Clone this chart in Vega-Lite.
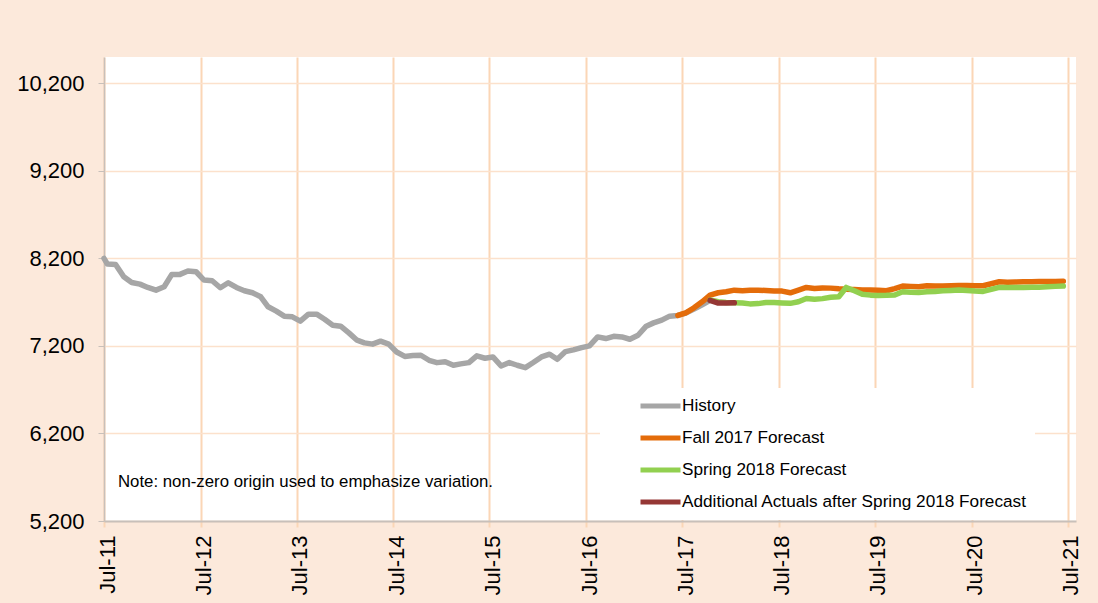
{
  "$schema": "https://vega.github.io/schema/vega-lite/v6.json",
  "width": 972,
  "height": 464,
  "autosize": "none",
  "padding": {"left": 104, "top": 57, "right": 22, "bottom": 82},
  "background": "#FCE9DB",
  "config": {
    "font": "Liberation Sans",
    "view": {"fill": "white", "stroke": null}
  },
  "data": {
    "values": [
      {"d": "2011-07-01", "v": 8200, "s": "History"},
      {"d": "2011-07-14", "v": 8135, "s": "History"},
      {"d": "2011-08-14", "v": 8131, "s": "History"},
      {"d": "2011-09-14", "v": 7990, "s": "History"},
      {"d": "2011-10-14", "v": 7925, "s": "History"},
      {"d": "2011-11-14", "v": 7906, "s": "History"},
      {"d": "2011-12-14", "v": 7868, "s": "History"},
      {"d": "2012-01-14", "v": 7837, "s": "History"},
      {"d": "2012-02-14", "v": 7875, "s": "History"},
      {"d": "2012-03-14", "v": 8017, "s": "History"},
      {"d": "2012-04-14", "v": 8017, "s": "History"},
      {"d": "2012-05-14", "v": 8055, "s": "History"},
      {"d": "2012-06-14", "v": 8047, "s": "History"},
      {"d": "2012-07-14", "v": 7952, "s": "History"},
      {"d": "2012-08-14", "v": 7944, "s": "History"},
      {"d": "2012-09-14", "v": 7864, "s": "History"},
      {"d": "2012-10-14", "v": 7921, "s": "History"},
      {"d": "2012-11-14", "v": 7868, "s": "History"},
      {"d": "2012-12-14", "v": 7830, "s": "History"},
      {"d": "2013-01-14", "v": 7807, "s": "History"},
      {"d": "2013-02-14", "v": 7761, "s": "History"},
      {"d": "2013-03-14", "v": 7647, "s": "History"},
      {"d": "2013-04-14", "v": 7597, "s": "History"},
      {"d": "2013-05-14", "v": 7540, "s": "History"},
      {"d": "2013-06-14", "v": 7532, "s": "History"},
      {"d": "2013-07-14", "v": 7483, "s": "History"},
      {"d": "2013-08-14", "v": 7563, "s": "History"},
      {"d": "2013-09-14", "v": 7563, "s": "History"},
      {"d": "2013-10-14", "v": 7505, "s": "History"},
      {"d": "2013-11-14", "v": 7437, "s": "History"},
      {"d": "2013-12-14", "v": 7425, "s": "History"},
      {"d": "2014-01-14", "v": 7349, "s": "History"},
      {"d": "2014-02-14", "v": 7265, "s": "History"},
      {"d": "2014-03-14", "v": 7235, "s": "History"},
      {"d": "2014-04-14", "v": 7220, "s": "History"},
      {"d": "2014-05-14", "v": 7254, "s": "History"},
      {"d": "2014-06-14", "v": 7220, "s": "History"},
      {"d": "2014-07-14", "v": 7130, "s": "History"},
      {"d": "2014-08-14", "v": 7080, "s": "History"},
      {"d": "2014-09-14", "v": 7090, "s": "History"},
      {"d": "2014-10-14", "v": 7093, "s": "History"},
      {"d": "2014-11-14", "v": 7036, "s": "History"},
      {"d": "2014-12-14", "v": 7009, "s": "History"},
      {"d": "2015-01-14", "v": 7020, "s": "History"},
      {"d": "2015-02-14", "v": 6979, "s": "History"},
      {"d": "2015-03-14", "v": 6995, "s": "History"},
      {"d": "2015-04-14", "v": 7009, "s": "History"},
      {"d": "2015-05-14", "v": 7086, "s": "History"},
      {"d": "2015-06-14", "v": 7059, "s": "History"},
      {"d": "2015-07-14", "v": 7074, "s": "History"},
      {"d": "2015-08-14", "v": 6971, "s": "History"},
      {"d": "2015-09-14", "v": 7009, "s": "History"},
      {"d": "2015-10-14", "v": 6979, "s": "History"},
      {"d": "2015-11-14", "v": 6952, "s": "History"},
      {"d": "2015-12-14", "v": 7010, "s": "History"},
      {"d": "2016-01-14", "v": 7074, "s": "History"},
      {"d": "2016-02-14", "v": 7105, "s": "History"},
      {"d": "2016-03-14", "v": 7047, "s": "History"},
      {"d": "2016-04-14", "v": 7135, "s": "History"},
      {"d": "2016-05-14", "v": 7154, "s": "History"},
      {"d": "2016-06-14", "v": 7180, "s": "History"},
      {"d": "2016-07-14", "v": 7200, "s": "History"},
      {"d": "2016-08-14", "v": 7303, "s": "History"},
      {"d": "2016-09-14", "v": 7284, "s": "History"},
      {"d": "2016-10-14", "v": 7310, "s": "History"},
      {"d": "2016-11-14", "v": 7303, "s": "History"},
      {"d": "2016-12-14", "v": 7276, "s": "History"},
      {"d": "2017-01-14", "v": 7322, "s": "History"},
      {"d": "2017-02-14", "v": 7425, "s": "History"},
      {"d": "2017-03-14", "v": 7463, "s": "History"},
      {"d": "2017-04-14", "v": 7494, "s": "History"},
      {"d": "2017-05-14", "v": 7540, "s": "History"},
      {"d": "2017-06-14", "v": 7548, "s": "History"},
      {"d": "2017-07-14", "v": 7575, "s": "History"},
      {"d": "2017-08-14", "v": 7620, "s": "History"},
      {"d": "2017-09-14", "v": 7670, "s": "History"},
      {"d": "2017-10-14", "v": 7720, "s": "History"},

      {"d": "2017-06-14", "v": 7548, "s": "Fall 2017 Forecast"},
      {"d": "2017-07-14", "v": 7578, "s": "Fall 2017 Forecast"},
      {"d": "2017-08-14", "v": 7635, "s": "Fall 2017 Forecast"},
      {"d": "2017-09-14", "v": 7704, "s": "Fall 2017 Forecast"},
      {"d": "2017-10-14", "v": 7780, "s": "Fall 2017 Forecast"},
      {"d": "2017-11-14", "v": 7807, "s": "Fall 2017 Forecast"},
      {"d": "2017-12-14", "v": 7818, "s": "Fall 2017 Forecast"},
      {"d": "2018-01-14", "v": 7837, "s": "Fall 2017 Forecast"},
      {"d": "2018-02-14", "v": 7830, "s": "Fall 2017 Forecast"},
      {"d": "2018-03-14", "v": 7835, "s": "Fall 2017 Forecast"},
      {"d": "2018-04-14", "v": 7837, "s": "Fall 2017 Forecast"},
      {"d": "2018-05-14", "v": 7832, "s": "Fall 2017 Forecast"},
      {"d": "2018-06-14", "v": 7828, "s": "Fall 2017 Forecast"},
      {"d": "2018-07-14", "v": 7826, "s": "Fall 2017 Forecast"},
      {"d": "2018-08-14", "v": 7807, "s": "Fall 2017 Forecast"},
      {"d": "2018-09-14", "v": 7837, "s": "Fall 2017 Forecast"},
      {"d": "2018-10-14", "v": 7868, "s": "Fall 2017 Forecast"},
      {"d": "2018-11-14", "v": 7856, "s": "Fall 2017 Forecast"},
      {"d": "2018-12-14", "v": 7862, "s": "Fall 2017 Forecast"},
      {"d": "2019-01-14", "v": 7860, "s": "Fall 2017 Forecast"},
      {"d": "2019-02-14", "v": 7852, "s": "Fall 2017 Forecast"},
      {"d": "2019-03-14", "v": 7847, "s": "Fall 2017 Forecast"},
      {"d": "2019-04-14", "v": 7845, "s": "Fall 2017 Forecast"},
      {"d": "2019-05-14", "v": 7840, "s": "Fall 2017 Forecast"},
      {"d": "2019-06-14", "v": 7838, "s": "Fall 2017 Forecast"},
      {"d": "2019-07-14", "v": 7836, "s": "Fall 2017 Forecast"},
      {"d": "2019-08-14", "v": 7830, "s": "Fall 2017 Forecast"},
      {"d": "2019-09-14", "v": 7855, "s": "Fall 2017 Forecast"},
      {"d": "2019-10-14", "v": 7884, "s": "Fall 2017 Forecast"},
      {"d": "2019-11-14", "v": 7880, "s": "Fall 2017 Forecast"},
      {"d": "2019-12-14", "v": 7876, "s": "Fall 2017 Forecast"},
      {"d": "2020-01-14", "v": 7886, "s": "Fall 2017 Forecast"},
      {"d": "2020-02-14", "v": 7885, "s": "Fall 2017 Forecast"},
      {"d": "2020-03-14", "v": 7884, "s": "Fall 2017 Forecast"},
      {"d": "2020-04-14", "v": 7887, "s": "Fall 2017 Forecast"},
      {"d": "2020-05-14", "v": 7891, "s": "Fall 2017 Forecast"},
      {"d": "2020-06-14", "v": 7890, "s": "Fall 2017 Forecast"},
      {"d": "2020-07-14", "v": 7888, "s": "Fall 2017 Forecast"},
      {"d": "2020-08-14", "v": 7887, "s": "Fall 2017 Forecast"},
      {"d": "2020-09-14", "v": 7910, "s": "Fall 2017 Forecast"},
      {"d": "2020-10-14", "v": 7933, "s": "Fall 2017 Forecast"},
      {"d": "2020-11-14", "v": 7928, "s": "Fall 2017 Forecast"},
      {"d": "2020-12-14", "v": 7930, "s": "Fall 2017 Forecast"},
      {"d": "2021-01-14", "v": 7933, "s": "Fall 2017 Forecast"},
      {"d": "2021-02-14", "v": 7934, "s": "Fall 2017 Forecast"},
      {"d": "2021-03-14", "v": 7935, "s": "Fall 2017 Forecast"},
      {"d": "2021-04-14", "v": 7936, "s": "Fall 2017 Forecast"},
      {"d": "2021-05-14", "v": 7937, "s": "Fall 2017 Forecast"},
      {"d": "2021-06-14", "v": 7938, "s": "Fall 2017 Forecast"},

      {"d": "2017-10-14", "v": 7725, "s": "Spring 2018 Forecast"},
      {"d": "2017-11-14", "v": 7704, "s": "Spring 2018 Forecast"},
      {"d": "2017-12-14", "v": 7697, "s": "Spring 2018 Forecast"},
      {"d": "2018-01-14", "v": 7693, "s": "Spring 2018 Forecast"},
      {"d": "2018-02-14", "v": 7690, "s": "Spring 2018 Forecast"},
      {"d": "2018-03-14", "v": 7680, "s": "Spring 2018 Forecast"},
      {"d": "2018-04-14", "v": 7683, "s": "Spring 2018 Forecast"},
      {"d": "2018-05-14", "v": 7695, "s": "Spring 2018 Forecast"},
      {"d": "2018-06-14", "v": 7695, "s": "Spring 2018 Forecast"},
      {"d": "2018-07-14", "v": 7690, "s": "Spring 2018 Forecast"},
      {"d": "2018-08-14", "v": 7686, "s": "Spring 2018 Forecast"},
      {"d": "2018-09-14", "v": 7704, "s": "Spring 2018 Forecast"},
      {"d": "2018-10-14", "v": 7742, "s": "Spring 2018 Forecast"},
      {"d": "2018-11-14", "v": 7733, "s": "Spring 2018 Forecast"},
      {"d": "2018-12-14", "v": 7740, "s": "Spring 2018 Forecast"},
      {"d": "2019-01-14", "v": 7755, "s": "Spring 2018 Forecast"},
      {"d": "2019-02-14", "v": 7762, "s": "Spring 2018 Forecast"},
      {"d": "2019-03-14", "v": 7868, "s": "Spring 2018 Forecast"},
      {"d": "2019-04-14", "v": 7830, "s": "Spring 2018 Forecast"},
      {"d": "2019-05-14", "v": 7790, "s": "Spring 2018 Forecast"},
      {"d": "2019-06-14", "v": 7780, "s": "Spring 2018 Forecast"},
      {"d": "2019-07-14", "v": 7777, "s": "Spring 2018 Forecast"},
      {"d": "2019-08-14", "v": 7778, "s": "Spring 2018 Forecast"},
      {"d": "2019-09-14", "v": 7782, "s": "Spring 2018 Forecast"},
      {"d": "2019-10-14", "v": 7818, "s": "Spring 2018 Forecast"},
      {"d": "2019-11-14", "v": 7814, "s": "Spring 2018 Forecast"},
      {"d": "2019-12-14", "v": 7811, "s": "Spring 2018 Forecast"},
      {"d": "2020-01-14", "v": 7818, "s": "Spring 2018 Forecast"},
      {"d": "2020-02-14", "v": 7822, "s": "Spring 2018 Forecast"},
      {"d": "2020-03-14", "v": 7830, "s": "Spring 2018 Forecast"},
      {"d": "2020-04-14", "v": 7834, "s": "Spring 2018 Forecast"},
      {"d": "2020-05-14", "v": 7838, "s": "Spring 2018 Forecast"},
      {"d": "2020-06-14", "v": 7834, "s": "Spring 2018 Forecast"},
      {"d": "2020-07-14", "v": 7826, "s": "Spring 2018 Forecast"},
      {"d": "2020-08-14", "v": 7822, "s": "Spring 2018 Forecast"},
      {"d": "2020-09-14", "v": 7845, "s": "Spring 2018 Forecast"},
      {"d": "2020-10-14", "v": 7868, "s": "Spring 2018 Forecast"},
      {"d": "2020-11-14", "v": 7866, "s": "Spring 2018 Forecast"},
      {"d": "2020-12-14", "v": 7866, "s": "Spring 2018 Forecast"},
      {"d": "2021-01-14", "v": 7868, "s": "Spring 2018 Forecast"},
      {"d": "2021-02-14", "v": 7869, "s": "Spring 2018 Forecast"},
      {"d": "2021-03-14", "v": 7871, "s": "Spring 2018 Forecast"},
      {"d": "2021-04-14", "v": 7875, "s": "Spring 2018 Forecast"},
      {"d": "2021-05-14", "v": 7880, "s": "Spring 2018 Forecast"},
      {"d": "2021-06-14", "v": 7884, "s": "Spring 2018 Forecast"},

      {"d": "2017-10-14", "v": 7720, "s": "Additional Actuals after Spring 2018 Forecast"},
      {"d": "2017-11-14", "v": 7690, "s": "Additional Actuals after Spring 2018 Forecast"},
      {"d": "2017-12-14", "v": 7690, "s": "Additional Actuals after Spring 2018 Forecast"},
      {"d": "2018-01-14", "v": 7693, "s": "Additional Actuals after Spring 2018 Forecast"}
    ]
  },
  "layer": [
    {
      "transform": [{"filter": "datum.s === 'History'"}],
      "mark": {"type": "line", "strokeWidth": 5.5, "strokeCap": "round", "strokeJoin": "round"},
      "encoding": {
        "x": {
          "field": "d",
          "type": "temporal",
          "scale": {"domain": [{"year": 2011, "month": 7, "date": 1}, {"year": 2021, "month": 8, "date": 1}]},
          "axis": {
            "title": null,
            "values": [
              {"year": 2011, "month": 7, "date": 1}, {"year": 2012, "month": 7, "date": 1},
              {"year": 2013, "month": 7, "date": 1}, {"year": 2014, "month": 7, "date": 1},
              {"year": 2015, "month": 7, "date": 1}, {"year": 2016, "month": 7, "date": 1},
              {"year": 2017, "month": 7, "date": 1}, {"year": 2018, "month": 7, "date": 1},
              {"year": 2019, "month": 7, "date": 1}, {"year": 2020, "month": 7, "date": 1},
              {"year": 2021, "month": 7, "date": 1}
            ],
            "format": "%b-%y",
            "labelAngle": -90,
            "labelFontSize": 22,
            "labelColor": "black",
            "labelPadding": 8,
            "labelOffset": 3,
            "labelFlush": false,
            "labelOverlap": false,
            "grid": true,
            "gridColor": "#FBD6B6",
            "gridWidth": 2,
            "tickColor": "#FBD6B6",
            "tickWidth": 2,
            "tickSize": 6,
            "domainColor": "#C8C0BA",
            "domainWidth": 2
          }
        },
        "y": {
          "field": "v",
          "type": "quantitative",
          "scale": {"domain": [5200, 10500], "nice": false, "zero": false},
          "axis": {
            "title": null,
            "values": [5200, 6200, 7200, 8200, 9200, 10200],
            "format": ",.0f",
            "labelFontSize": 22,
            "labelColor": "black",
            "labelPadding": 14,
            "labelFlush": false,
            "grid": true,
            "gridColor": "#FCE1CC",
            "gridWidth": 1.5,
            "tickColor": "#C8C0BA",
            "tickSize": 6,
            "domainColor": "#C8C0BA",
            "domainWidth": 1.5
          }
        },
        "color": {
          "field": "s",
          "type": "nominal",
          "scale": {
            "domain": ["History", "Fall 2017 Forecast", "Spring 2018 Forecast", "Additional Actuals after Spring 2018 Forecast"],
            "range": ["#A6A6A6", "#E46C0A", "#92D050", "#953735"]
          },
          "legend": {
            "title": null,
            "orient": "none",
            "legendX": 496,
            "legendY": 331,
            "fillColor": "white",
            "padding": 8,
            "symbolType": "stroke",
            "symbolSize": 1600,
            "symbolStrokeWidth": 5,
            "symbolOffset": 30,
            "labelFontSize": 17.2,
            "labelColor": "black",
            "labelLimit": 600,
            "labelOffset": -1,
            "clipHeight": 20,
            "rowPadding": 12
          }
        }
      }
    },
    {
      "transform": [{"filter": "datum.s === 'Fall 2017 Forecast'"}],
      "mark": {"type": "line", "strokeWidth": 5.5, "strokeCap": "round", "strokeJoin": "round"},
      "encoding": {"x": {"field": "d", "type": "temporal"}, "y": {"field": "v", "type": "quantitative"}, "color": {"field": "s", "type": "nominal"}}
    },
    {
      "transform": [{"filter": "datum.s === 'Spring 2018 Forecast'"}],
      "mark": {"type": "line", "strokeWidth": 5.5, "strokeCap": "round", "strokeJoin": "round"},
      "encoding": {"x": {"field": "d", "type": "temporal"}, "y": {"field": "v", "type": "quantitative"}, "color": {"field": "s", "type": "nominal"}}
    },
    {
      "transform": [{"filter": "datum.s === 'Additional Actuals after Spring 2018 Forecast'"}],
      "mark": {"type": "line", "strokeWidth": 5.5, "strokeCap": "round", "strokeJoin": "round"},
      "encoding": {"x": {"field": "d", "type": "temporal"}, "y": {"field": "v", "type": "quantitative"}, "color": {"field": "s", "type": "nominal"}}
    },
    {
      "data": {"values": [{"note": "Note: non-zero origin used to emphasize variation."}]},
      "mark": {"type": "text", "align": "left", "baseline": "alphabetic", "fontSize": 16.8, "fill": "black"},
      "encoding": {
        "x": {"datum": {"year": 2011, "month": 8, "date": 23}, "type": "temporal"},
        "y": {"datum": 5590, "type": "quantitative"},
        "text": {"field": "note", "type": "nominal"}
      }
    }
  ]
}
